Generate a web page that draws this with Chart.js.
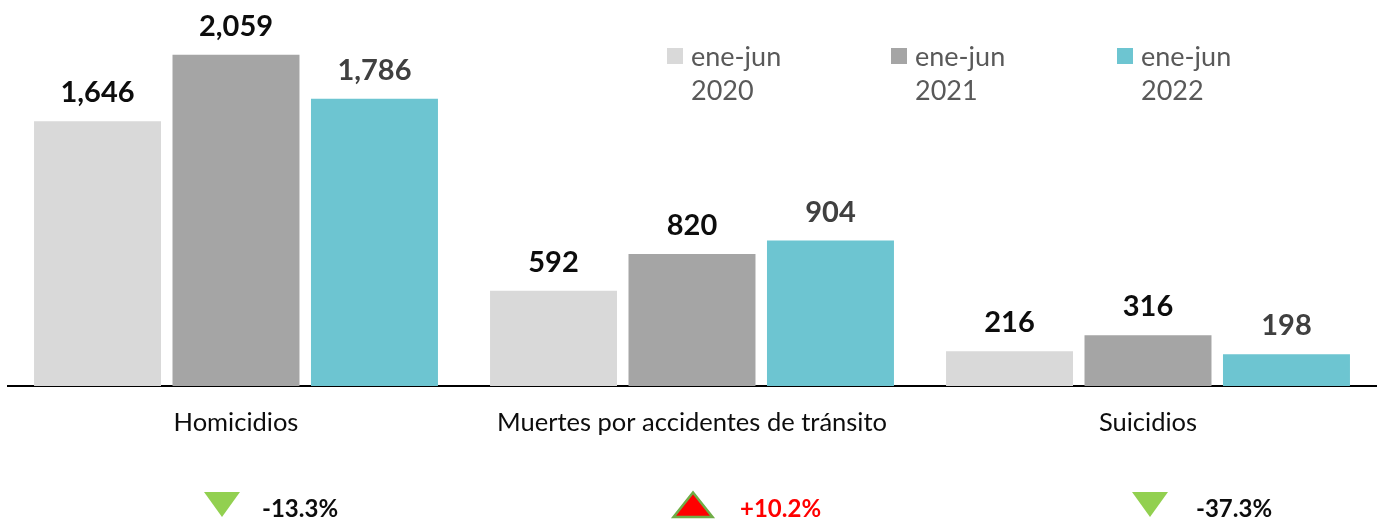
<!DOCTYPE html>
<html><head><meta charset="utf-8">
<script src="https://cdn.jsdelivr.net/npm/chart.js@4/dist/chart.umd.min.js"></script>
<style>html,body{margin:0;padding:0;background:#fff}#wrap{width:1379px;height:519px}</style>
</head><body><div id="wrap"><canvas id="c" width="1379" height="519"></canvas></div>
<script>
const categories = ["Homicidios", "Muertes por accidentes de tránsito", "Suicidios"];
const seriesLabels = [["ene-jun", "2020"], ["ene-jun", "2021"], ["ene-jun", "2022"]];
const values2020 = [1646, 592, 216];
const values2021 = [2059, 820, 316];
const values2022 = [1786, 904, 198];
const changePct = [-13.3, 10.2, -37.3];
const colors = ["#D9D9D9", "#A5A5A5", "#6DC5D1"];
const labelColors = ["#0d0d0d", "#0d0d0d", "#404040"];

const FONT = "Lato, 'Open Sans', sans-serif";

const valueLabels = {
  id: 'valueLabels',
  afterDatasetsDraw(chart) {
    const ctx = chart.ctx;
    ctx.save();
    ctx.font = "bold 29px " + FONT;
    ctx.textAlign = "center";
    ctx.textBaseline = "alphabetic";
    chart.data.datasets.forEach((ds, i) => {
      ctx.fillStyle = labelColors[i];
      chart.getDatasetMeta(i).data.forEach((bar, j) => {
        ctx.fillText(ds.data[j].toLocaleString('en-US'), bar.x, bar.y - 19);
      });
    });
    ctx.restore();
  }
};

const customLegend = {
  id: 'customLegend',
  afterDraw(chart) {
    const ctx = chart.ctx;
    const xs = [667, 891, 1117];
    ctx.save();
    ctx.font = "27px " + FONT;
    ctx.textBaseline = "middle";
    ctx.textAlign = "left";
    chart.data.datasets.forEach((ds, i) => {
      ctx.fillStyle = ds.backgroundColor;
      ctx.fillRect(xs[i], 48, 16, 16);
      ctx.fillStyle = "#595959";
      seriesLabels[i].forEach((t, k) => ctx.fillText(t, xs[i] + 24, 57 + k * 34));
    });
    ctx.restore();
  }
};

const changeRow = {
  id: 'changeRow',
  afterDraw(chart) {
    const ctx = chart.ctx;
    const xScale = chart.scales.x;
    const triOffsets = [-14, 1, 2];
    const textOffsets = [26, 48, 48];
    ctx.save();
    changePct.forEach((v, i) => {
      const cx = xScale.getPixelForValue(i);
      const tx = cx + triOffsets[i];
      ctx.beginPath();
      if (v < 0) {
        ctx.moveTo(tx - 18, 492); ctx.lineTo(tx + 18, 492); ctx.lineTo(tx, 517);
        ctx.closePath();
        ctx.fillStyle = "#92D050"; ctx.fill();
      } else {
        ctx.moveTo(tx - 19.5, 517); ctx.lineTo(tx + 19.5, 517); ctx.lineTo(tx, 492.5);
        ctx.closePath();
        ctx.fillStyle = "#FF0000"; ctx.fill();
        ctx.lineWidth = 2.5; ctx.strokeStyle = "#70AD47"; ctx.stroke();
      }
      ctx.font = "bold 24px " + FONT;
      ctx.textBaseline = "middle";
      ctx.textAlign = "left";
      ctx.fillStyle = v < 0 ? "#0d0d0d" : "#FF0000";
      const s = (v > 0 ? "+" : "") + v.toFixed(1) + "%";
      ctx.fillText(s, cx + textOffsets[i], 509);
    });
    ctx.restore();
  }
};

new Chart(document.getElementById('c'), {
  type: 'bar',
  data: {
    labels: categories,
    datasets: [
      { label: seriesLabels[0].join(' '), data: values2020, backgroundColor: colors[0] },
      { label: seriesLabels[1].join(' '), data: values2021, backgroundColor: colors[1] },
      { label: seriesLabels[2].join(' '), data: values2022, backgroundColor: colors[2] }
    ]
  },
  options: {
    responsive: false,
    animation: false,
    layout: { padding: { left: 8, right: 3, top: 0, bottom: 0 } },
    categoryPercentage: 0.911,
    barPercentage: 0.917,
    plugins: { legend: { display: false }, tooltip: { enabled: false } },
    scales: {
      x: {
        grid: { display: false, drawTicks: false },
        border: { display: true, color: "#000", width: 2 },
        ticks: { color: "#0d0d0d", font: { family: FONT, size: 25.5 }, padding: 21 },
        afterFit(s) { s.height = 133; }
      },
      y: {
        display: false,
        min: 0, max: 2400,
        afterFit(s) { s.width = 0; }
      }
    }
  },
  plugins: [valueLabels, customLegend, changeRow]
});
</script></body></html>
